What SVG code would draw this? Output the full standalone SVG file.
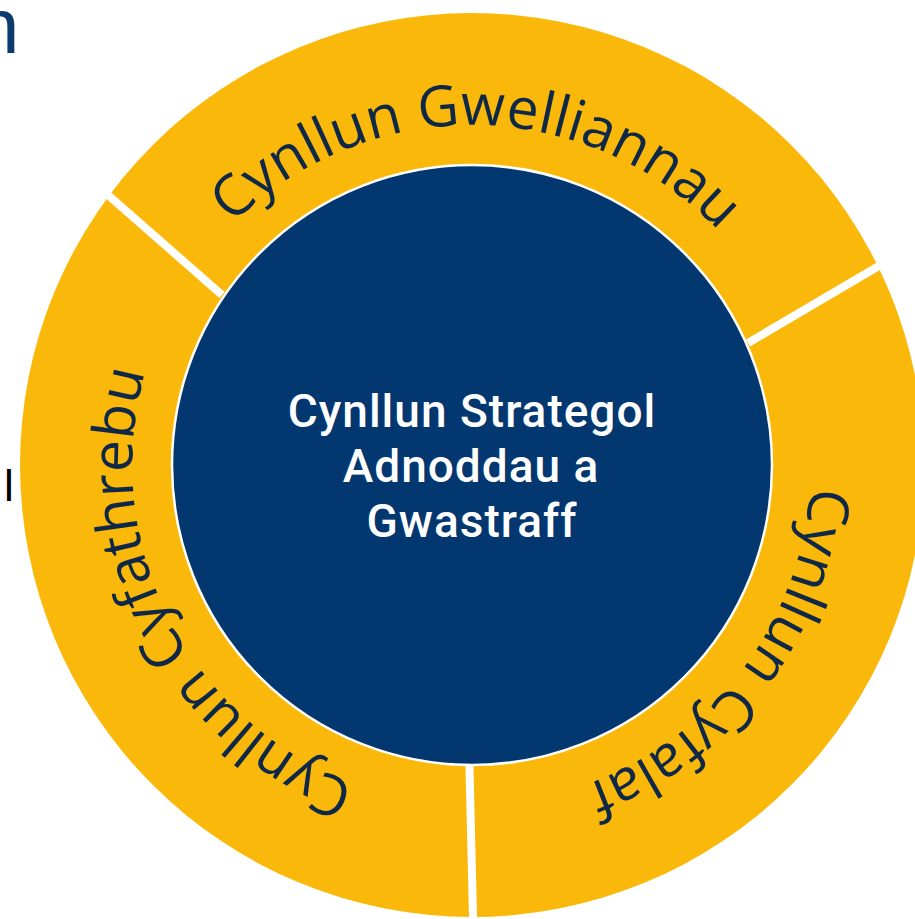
<svg xmlns="http://www.w3.org/2000/svg" width="915" height="919" viewBox="0 0 915 919">
<style>
.ring{fill:#FAB90A}
.gap{stroke:#FFFFFF;stroke-width:8;fill:none}
.core{fill:#033770;stroke:#FFFFFF;stroke-width:2.5}
.arc{font-family:"Open Sans","Noto Sans",sans-serif;font-size:57px;fill:#0F2847}
.mid{font-family:Roboto,"Inter",sans-serif;font-size:46px;font-weight:500;fill:#FFFFFF;text-anchor:middle;letter-spacing:1px}
</style>
<defs>
<path id="pTop" d="M133.3,435.4 A340,340 0 0 1 810.7,435.4"/>
<path id="pLeft" d="M599.4,780.2 A340,340 0 0 1 291.8,176.7"/>
<path id="pRight" d="M693.5,207.5 A340,340 0 0 1 285.5,749.5"/>
</defs>
<rect width="915" height="919" fill="#FFFFFF"/>
<text x="-24" y="53" font-family="Liberation Sans, Arial, sans-serif" font-size="78" fill="#0B3A6E">n</text>
<text x="4" y="501" font-family="Liberation Sans, Arial, sans-serif" font-size="44" fill="#000000">l</text>
<g id="ring">
<circle class="ring" cx="472" cy="465" r="452"/>
</g>
<g id="connectors">
<line class="gap" x1="100" y1="188" x2="222" y2="295"/>
<line class="gap" x1="889" y1="260" x2="748" y2="343"/>
<line class="gap" x1="469.3" y1="760" x2="473.2" y2="925"/>
</g>
<g id="node-gwelliannau">
<text class="arc"><textPath href="#pTop" startOffset="50.5%" text-anchor="middle">Cynllun Gwelliannau</textPath></text>
</g>
<g id="node-cyfathrebu">
<text class="arc"><textPath href="#pLeft" startOffset="50%" text-anchor="middle">Cynllun Cyfathrebu</textPath></text>
</g>
<g id="node-cyfalaf">
<text class="arc"><textPath href="#pRight" startOffset="50%" text-anchor="middle">Cynllun Cyfalaf</textPath></text>
</g>
<g id="node-centre">
<circle class="core" cx="472" cy="465" r="300"/>
<text class="mid" x="472" y="427">Cynllun Strategol</text>
<text class="mid" x="471" y="482">Adnoddau a</text>
<text class="mid" x="472" y="537">Gwastraff</text>
</g>
</svg>
